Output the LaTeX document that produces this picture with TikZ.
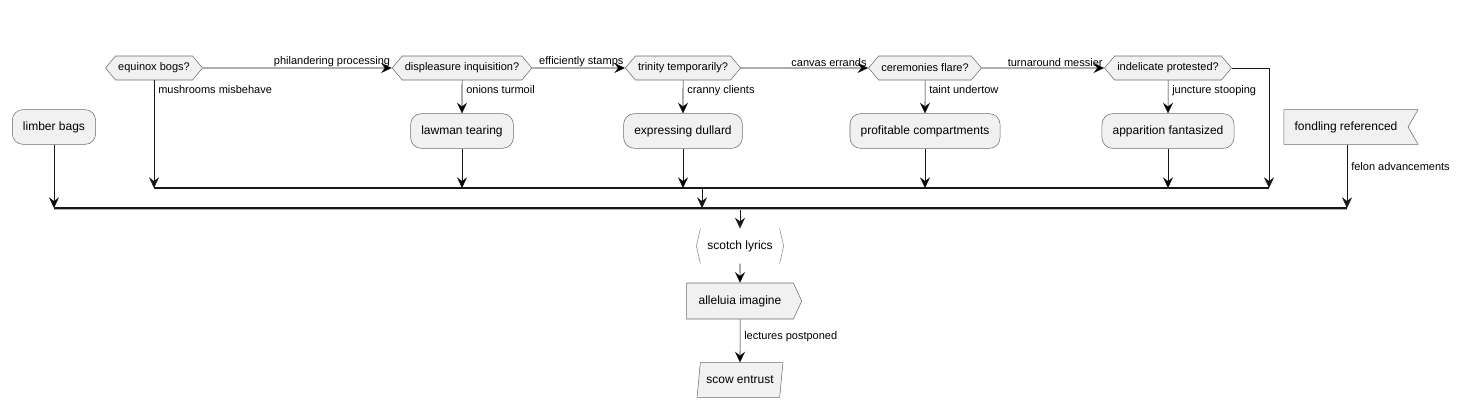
\documentclass[tikz,border=0pt]{standalone}
\usepackage{fontspec}
\setmainfont{Liberation Sans}
\usetikzlibrary{shapes.symbols,shapes.geometric,arrows.meta,positioning}
\definecolor{boxfill}{HTML}{F1F1F1}
\definecolor{boxline}{HTML}{6B6B6B}
\definecolor{ink}{HTML}{181818}

\begin{document}
\begin{tikzpicture}
		[x=0.75pt, y=-0.75pt,
		block/.style ={rectangle, draw=boxline, fill=boxfill, rounded corners=8pt, inner xsep=8pt, minimum height=26pt, font=\fontsize{9}{11}\selectfont},
		choice/.style ={signal, signal to=west and east, signal pointer angle=100, draw=boxline, fill=boxfill, inner xsep=2pt, inner ysep=0pt, minimum height=18pt, font=\fontsize{8.25}{10}\selectfont},
		flagbox/.style ={signal, signal from=east, signal to=nowhere, signal pointer angle=120, draw=boxline, fill=boxfill, inner xsep=8pt, minimum height=26pt, font=\fontsize{9}{11}\selectfont},
		sendbox/.style ={signal, signal to=east, signal pointer angle=130, draw=boxline, fill=boxfill, inner xsep=9pt, minimum height=27pt, font=\fontsize{9}{11}\selectfont},
		slant/.style ={trapezium, trapezium stretches=true, trapezium left angle=79, trapezium right angle=101, draw=boxline, fill=boxfill, inner xsep=4.5pt, minimum height=26pt, font=\fontsize{9}{11}\selectfont},
		tagbox/.style ={rectangle, fill=white, minimum width=65pt, minimum height=26pt, font=\fontsize{9}{11}\selectfont},
		line/.style ={draw=ink, -{Stealth[length=8pt,width=7.5pt,inset=2.8pt]}},
		bar/.style ={draw=ink, line width=0.9pt},
		lbl/.style ={font=\fontsize{8.25}{10}\selectfont, inner sep=1pt},
		]
		\useasboundingbox (0,0) rectangle (1459,407);

		% decisions along the top
		\draw (154,68) node[choice] (D1) {equinox bogs?};
		\draw (462,68) node[choice] (D2) {displeasure inquisition?};
		\draw (683,68) node[choice] (D3) {trinity temporarily?};
		\draw (925,68) node[choice] (D4) {ceremonies flare?};
		\draw (1168,68) node[choice] (D5) {indelicate protested?};

		% actions
		\draw (54,127) node[block] (A0) {limber bags};
		\draw (462,131) node[block] (A1) {lawman tearing};
		\draw (683,131) node[block] (A2) {expressing dullard};
		\draw (925,131) node[block] (A3) {profitable compartments};
		\draw (1168,131) node[block] (A4) {apparition fantasized};
		\draw (1346,127) node[flagbox] (F1) {fondling referenced};

		% after the merge
		\draw (740,246) node[tagbox] (S1) {scotch lyrics};
		\draw (740,301) node[sendbox] (S2) {alleluia imagine};
		\draw (740,380) node[slant] (S3) {scow entrust};
		\draw[boxline!80] ([shift={(4,0)}]S1.north west) -- (S1.west) -- ([shift={(4,0)}]S1.south west);
		\draw[boxline!80] ([shift={(-4,0)}]S1.north east) -- (S1.east) -- ([shift={(-4,0)}]S1.south east);

		% join points
		\coordinate (J1) at (154,188);
		\coordinate (J2) at (462,188);
		\coordinate (J3) at (683,188);
		\coordinate (J4) at (925,188);
		\coordinate (J5) at (1168,188);
		\coordinate (J6) at (1269,188);
		\coordinate (J7) at (702,188);
		\coordinate (K0) at (54,208);
		\coordinate (K1) at (702,208);
		\coordinate (K2) at (1347,208);
		\coordinate (K3) at (740,208);

		\path[line]
		(D1) edge node[lbl, pos=1, anchor=south east] {philandering processing} (D2)
		(D2) edge node[lbl, pos=1, anchor=south east] {efficiently stamps} (D3)
		(D3) edge node[lbl, pos=1, anchor=south east] {canvas errands} (D4)
		(D4) edge node[lbl, pos=1, anchor=south east] {turnaround messier} (D5)
		(D2) edge node[lbl, pos=0, anchor=north west, xshift=2pt, yshift=-2.5pt] {onions turmoil} (A1)
		(D3) edge node[lbl, pos=0, anchor=north west, xshift=2pt, yshift=-2.5pt] {cranny clients} (A2)
		(D4) edge node[lbl, pos=0, anchor=north west, xshift=2pt, yshift=-2.5pt] {taint undertow} (A3)
		(D5) edge node[lbl, pos=0, anchor=north west, xshift=2pt, yshift=-2.5pt] {juncture stooping} (A4)
		(A1) edge (J2)
		(A2) edge (J3)
		(A3) edge (J4)
		(A4) edge (J5)
		(A0) edge (K0)
		(S1) edge (S2)
		(S2) edge node[lbl, pos=0.4, anchor=west, xshift=2pt] {lectures postponed} (S3);
		\draw[line] (D1.south) -- node[lbl, pos=0, anchor=north west, xshift=2pt, yshift=-2.5pt] {mushrooms misbehave} (J1);
		\draw[line] (J7) -- (K1);
		\draw[line] (F1.south -| K2) -- node[lbl, pos=0.35, anchor=west, xshift=2pt] {felon advancements} (K2);
		\draw[line] (K3) -- (S1.north);
		\draw[line] (D5.east) -| (J6);

		% bars
		\draw[bar] (J1) -- (J6);
		\draw[bar] (K0) -- (K2);
		\draw[gray!60] ([shift={(0,1.5)}]K0) -- ([shift={(0,1.5)}]K2);
	\end{tikzpicture}
\end{document}
